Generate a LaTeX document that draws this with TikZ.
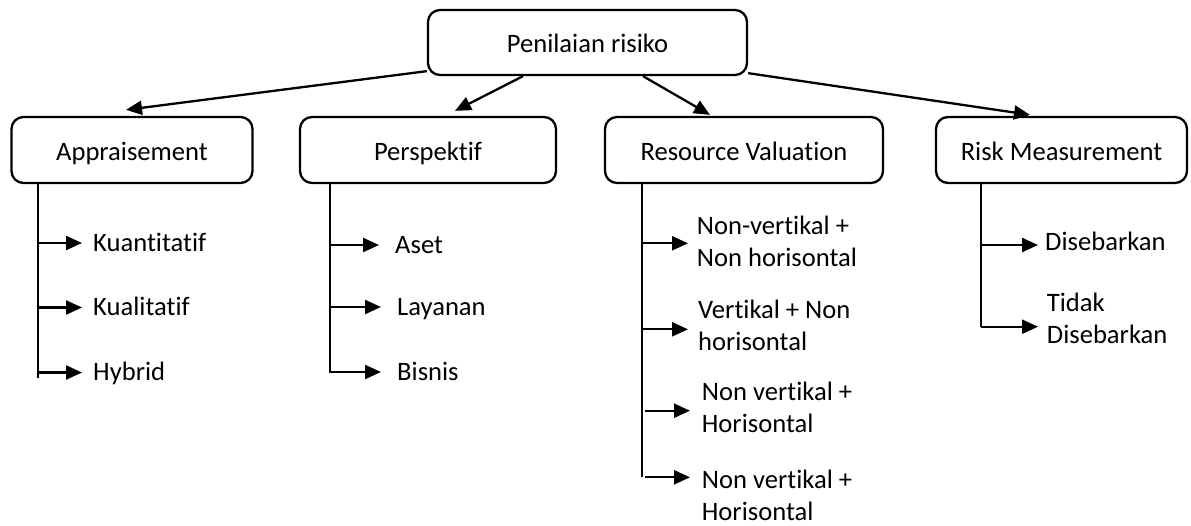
\documentclass[tikz,border=0pt]{standalone}
\usepackage{fontspec}
\setmainfont{Carlito}[Ligatures=NoCommon]
\usetikzlibrary{arrows.meta}
\begin{document}
\begin{tikzpicture}[x=1pt,y=-1pt,
  every node/.style={font=\fontsize{26.6}{32}\selectfont},
  box/.style={draw, line width=2.3pt, rounded corners=12pt, minimum height=66pt, inner sep=0pt, text height=20pt, text depth=0pt},
  stem/.style={line width=2.3pt},
  arr/.style={line width=2.3pt, -{Triangle[length=16pt,width=14pt]}},
  leaf/.style={anchor=base west, inner sep=0pt},
  mleaf/.style={anchor=west, inner sep=0pt, align=left}]
\useasboundingbox (0,0) rectangle (1191,525);
% boxes
\node[box, minimum width=319pt, minimum height=65pt] (top) at (587.5,42.5) {Penilaian risiko};
\node[box, minimum width=241pt] (app) at (132,150) {Appraisement};
\node[box, minimum width=256pt] (per) at (428,150) {Perspektif};
\node[box, minimum width=278pt] (rv) at (744,150) {Resource Valuation};
\node[box, minimum width=251pt] (rm) at (1061.5,150) {Risk Measurement};
% top arrows
\draw[arr] ([yshift=5pt]top.south west) -- ([xshift=-6pt,yshift=6pt]app.north);
\draw[arr] ([xshift=-64.5pt]top.south) -- ([xshift=27pt,yshift=5pt]per.north);
\draw[arr] ([xshift=55.5pt]top.south) -- ([xshift=-34pt,yshift=1pt]rv.north);
\draw[arr] ([yshift=3pt]top.south east) -- ([xshift=-31.5pt,yshift=1pt]rm.north);
% Appraisement
\coordinate (aB) at (38,378);
\draw[stem] (app.south -| aB) -- (aB);
\node[leaf] (k1) at (93,251) {Kuantitatif};
\node[leaf] (k2) at (93,315.5) {Kualitatif};
\node[leaf] (k3) at (93,380.5) {Hybrid};
\foreach \n in {k1,k2,k3}
  \draw[arr] ([yshift=8pt]\n.base west -| aB) -- ([xshift=-11pt,yshift=8pt]\n.base west);
% Perspektif
\coordinate (pB) at (330,373);
\draw[stem] (per.south -| pB) -- (pB);
\node[leaf] (p1) at (395,253) {Aset};
\node[leaf] (p2) at (397,315) {Layanan};
\node[leaf] (p3) at (397,380) {Bisnis};
\foreach \n in {p1,p2,p3}
  \draw[arr] ([yshift=8pt]\n.base west -| pB) -- ([xshift=-16pt,yshift=8pt]\n.base west);
% Resource Valuation
\coordinate (rB) at (641.7,477);
\coordinate (rS) at (645,0);
\draw[stem] (rv.south -| rB) -- (rB);
\node[mleaf] (r1) at (696.7,241) {Non-vertikal +\\Non horisontal};
\node[mleaf] (r2) at (698,325) {Vertikal + Non\\horisontal};
\node[mleaf] (r3) at (701.7,407.5) {Non vertikal +\\Horisontal};
\node[mleaf] (r4) at (701.7,495) {Non vertikal +\\Horisontal};
\draw[arr] ([yshift=-2.3pt]r1.west -| rB) -- ([xshift=-8.7pt,yshift=-2.3pt]r1.west);
\draw[arr] ([yshift=-4.3pt]r2.west -| rB) -- ([xshift=-10pt,yshift=-4.3pt]r2.west);
\draw[arr] ([yshift=-3.2pt]r3.west -| rS) -- ([xshift=-11.7pt,yshift=-3.2pt]r3.west);
\draw[arr] ([yshift=17.7pt]r4.west -| rS) -- ([xshift=-11.7pt,yshift=17.7pt]r4.west);
% Risk Measurement
\coordinate (mB) at (981,327);
\draw[stem] (rm.south -| mB) -- (mB);
\node[leaf] (d1) at (1045,250) {Disebarkan};
\node[mleaf] (d2) at (1046.7,318) {Tidak\\Disebarkan};
\draw[arr] ([yshift=5pt]d1.base west -| mB) -- ([xshift=-7pt,yshift=5pt]d1.base west);
\draw[arr] ([yshift=-8.7pt]d2.west -| mB) -- ([xshift=-8.7pt,yshift=-8.7pt]d2.west);
\end{tikzpicture}
\end{document}
